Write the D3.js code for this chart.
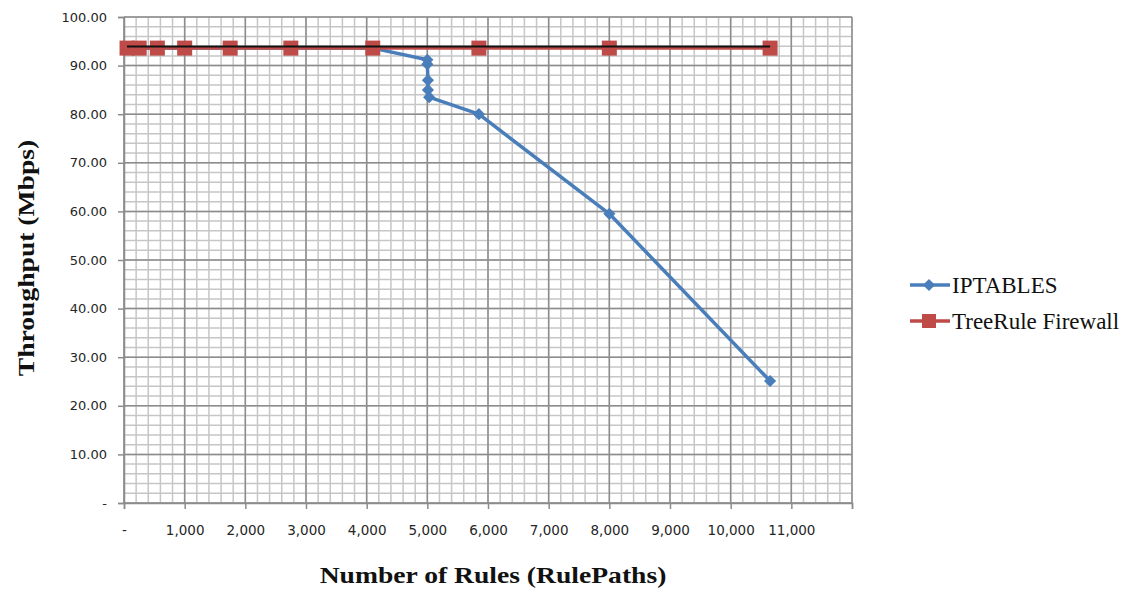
<!DOCTYPE html>
<html>
<head>
<meta charset="utf-8">
<script src="https://cdn.jsdelivr.net/npm/d3@7"></script>
<style>
  html, body { margin: 0; padding: 0; background: #fff; }
  svg { display: block; }
</style>
</head>
<body>
<svg id="chart" width="1137" height="590"></svg>
<script>
// Number of rules (rule paths) tested for each firewall
const treeRuleRules = [50, 250, 550, 1000, 1750, 2750, 4100, 5850, 8000, 10650];
// TreeRule Firewall throughput (Mbps)
const treeRuleThroughput = [93.6, 93.6, 93.6, 93.6, 93.6, 93.6, 93.6, 93.6, 93.6, 93.6];

const iptablesRules = [50, 250, 550, 1000, 1750, 2750, 4100, 5000, 5000, 5010, 5010, 5030, 5850, 8000, 10650];
// IPTABLES throughput (Mbps)
const iptablesThroughput = [93.6, 93.6, 93.6, 93.6, 93.6, 93.6, 93.6, 91.2, 90.3, 87.0, 85.0, 83.5, 80.0, 59.5, 25.1];

const xTicks = [0, 1000, 2000, 3000, 4000, 5000, 6000, 7000, 8000, 9000, 10000, 11000];
const yTicks = [0, 10, 20, 30, 40, 50, 60, 70, 80, 90, 100];
const seriesNames = ["IPTABLES", "TreeRule Firewall"];

const svg = d3.select("#chart");
const plot = { left: 124, right: 852, top: 17, bottom: 503 };

const x = d3.scaleLinear().domain([0, 12000]).range([plot.left, plot.right]);
const y = d3.scaleLinear().domain([0, 100]).range([plot.bottom, plot.top]);

const blue = "#4a7ebb";
const red = "#be4b48";
const serif = "'Liberation Serif', 'Times New Roman', serif";

// Minor grid
const g = svg.append("g");
g.selectAll("line.minorx").data(d3.range(0, 12001, 200)).join("line")
  .attr("x1", d => x(d)).attr("x2", d => x(d))
  .attr("y1", plot.top).attr("y2", plot.bottom)
  .attr("stroke", "#c6c6c6").attr("stroke-width", 1.5);
g.selectAll("line.minory").data(d3.range(0, 100.1, 2)).join("line")
  .attr("y1", d => y(d)).attr("y2", d => y(d))
  .attr("x1", plot.left).attr("x2", plot.right)
  .attr("stroke", "#c6c6c6").attr("stroke-width", 1.5);

// Major grid
const gm = svg.append("g");
gm.selectAll("line").data(d3.range(0, 12001, 1000)).join("line")
  .attr("x1", d => x(d)).attr("x2", d => x(d))
  .attr("y1", plot.top).attr("y2", plot.bottom)
  .attr("stroke", "#8c8c8c").attr("stroke-width", 1.5);
const gm2 = svg.append("g");
gm2.selectAll("line").data(yTicks).join("line")
  .attr("y1", d => y(d)).attr("y2", d => y(d))
  .attr("x1", plot.left).attr("x2", plot.right)
  .attr("stroke", "#8c8c8c").attr("stroke-width", 1.5);

// Axes
const fmtX = d => d === 0 ? "-" : d3.format(",")(d);
const fmtY = d => d === 0 ? "-" : d3.format(".2f")(d);

const xAxis = svg.append("g")
  .attr("transform", `translate(0,${plot.bottom})`)
  .call(d3.axisBottom(x).tickValues(d3.range(0, 12001, 1000)).tickSize(6).tickPadding(16)
    .tickFormat(d => xTicks.includes(d) ? fmtX(d) : ""));
const yAxis = svg.append("g")
  .attr("transform", `translate(${plot.left},0)`)
  .call(d3.axisLeft(y).tickValues(yTicks).tickSize(6).tickPadding(11).tickFormat(fmtY));

[xAxis, yAxis].forEach(a => {
  a.select(".domain").attr("stroke", "#8c8c8c").attr("stroke-width", 1.5);
  a.selectAll(".tick line").attr("stroke", "#8c8c8c").attr("stroke-width", 1.5);
  a.selectAll(".tick text")
    .attr("font-family", "'DejaVu Sans', sans-serif")
    .attr("font-size", 13)
    .attr("fill", "#262626");
});
xAxis.selectAll(".tick text").attr("font-size", 13.5);

// Series lines
const lineGen = d3.line().x(d => x(d[0])).y(d => y(d[1]));
const iptData = d3.zip(iptablesRules, iptablesThroughput);
const treeData = d3.zip(treeRuleRules, treeRuleThroughput);

svg.append("path").datum(iptData)
  .attr("d", lineGen).attr("fill", "none")
  .attr("stroke", blue).attr("stroke-width", 3.5).attr("stroke-linejoin", "round");

const diamond = d3.symbol().type(d3.symbolDiamond2).size(95);
svg.append("g").selectAll("path").data(iptData).join("path")
  .attr("d", diamond)
  .attr("transform", d => `translate(${x(d[0])},${y(d[1])})`)
  .attr("fill", blue);

svg.append("path").datum(treeData)
  .attr("d", lineGen).attr("fill", "none")
  .attr("stroke", red).attr("stroke-width", 3.5);

svg.append("g").selectAll("rect").data(treeData).join("rect")
  .attr("x", d => x(d[0]) - 7.5).attr("y", d => y(d[1]) - 7.5)
  .attr("width", 15).attr("height", 15)
  .attr("fill", red);

// Dark guide line along the TreeRule Firewall level
svg.append("path").datum(treeData)
  .attr("d", lineGen).attr("fill", "none")
  .attr("transform", "translate(0,-1.5)")
  .attr("stroke", "#111").attr("stroke-width", 2);

// Axis titles
svg.append("text")
  .attr("transform", "translate(493,583) scale(1.15,1)")
  .attr("text-anchor", "middle")
  .attr("font-family", serif)
  .attr("font-weight", "bold").attr("font-size", 24)
  .attr("fill", "#111")
  .text("Number of Rules (RulePaths)");

svg.append("text")
  .attr("transform", "translate(34,258) rotate(-90) scale(1.15,1)")
  .attr("text-anchor", "middle")
  .attr("font-family", serif)
  .attr("font-weight", "bold").attr("font-size", 24)
  .attr("fill", "#111")
  .text("Throughput (Mbps)");

// Legend
const legend = svg.append("g").attr("transform", "translate(910,285)");
const rows = legend.selectAll("g").data(seriesNames).join("g")
  .attr("transform", (d, i) => `translate(0,${i * 36})`);
rows.append("line").attr("x1", 0).attr("x2", 40).attr("y1", 0).attr("y2", 0)
  .attr("stroke", (d, i) => i === 0 ? blue : red).attr("stroke-width", 3.5);
rows.filter((d, i) => i === 0).append("path")
  .attr("d", diamond).attr("transform", "translate(19,0)").attr("fill", blue);
rows.filter((d, i) => i === 1).append("rect")
  .attr("x", 12).attr("y", -7).attr("width", 14).attr("height", 14).attr("fill", red);
rows.append("text")
  .attr("x", 42).attr("y", 0).attr("dy", "0.35em")
  .attr("font-family", serif)
  .attr("font-size", 23).attr("fill", "#111")
  .text(d => d);
</script>
</body>
</html>
